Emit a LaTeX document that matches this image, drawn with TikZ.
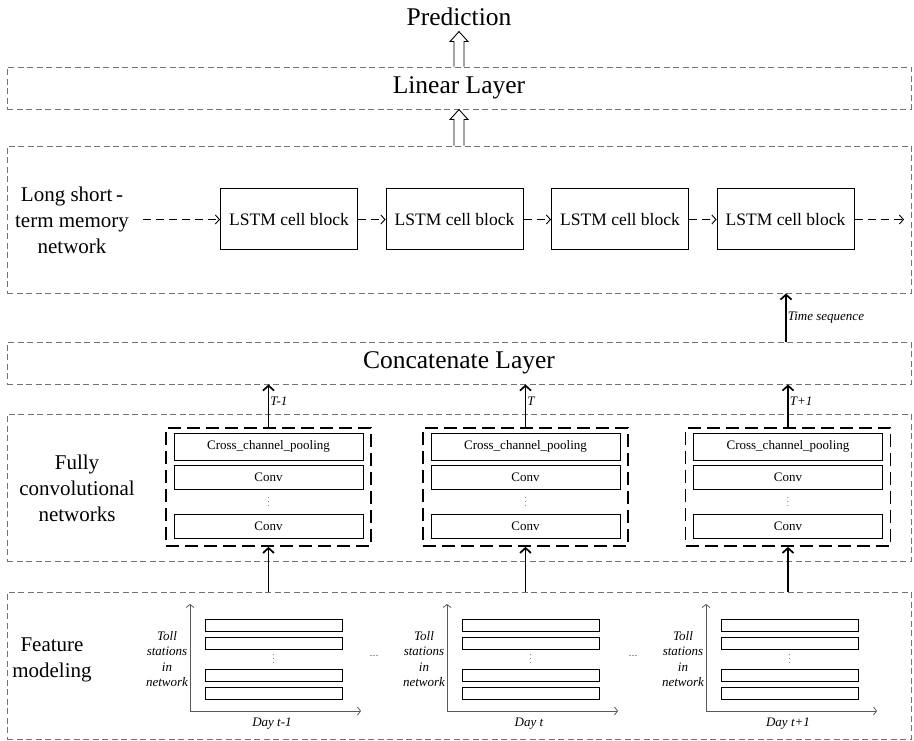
\documentclass[tikz,border=0pt]{standalone}
\usepackage{fontspec}
\setmainfont{Liberation Serif}
\usetikzlibrary{positioning}
\usetikzlibrary{arrows.meta}
\usetikzlibrary{calc}

\begin{document}
\begin{tikzpicture}
    [
    x=1pt,y=-1pt,
    layer/.style={draw=black!55,dash pattern=on 6pt off 3.5pt,line width=0.9pt,rectangle,inner sep=0pt,minimum width=904pt},
    big/.style={font=\fontsize{25.5}{28}\selectfont},
    side/.style={align=center,font=\fontsize{21}{26}\selectfont},
    cell/.style={draw,line width=1pt,rectangle,inner sep=0pt,minimum width=137pt,minimum height=61pt,font=\fontsize{17.5}{20}\selectfont},
    fcn/.style={draw,line width=1.7pt,dash pattern=on 13pt off 6pt,rectangle,inner sep=0pt,minimum width=205pt,minimum height=118pt},
    unit/.style={draw,line width=0.8pt,rectangle,inner sep=0pt,minimum width=189pt,font=\fontsize{13}{15}\selectfont},
    stn/.style={draw,line width=0.8pt,rectangle,inner sep=0pt,minimum width=137pt,minimum height=12pt},
    small/.style={inner sep=1pt,font=\fontsize{13}{15.3}\selectfont\itshape},
    up/.style={-{Straight Barb[length=5pt,width=11pt]},line width=1.7pt},
    link/.style={-{Straight Barb[length=4pt,width=9pt]},line width=0.9pt,dash pattern=on 8pt off 5pt},
    axis/.style={-{Straight Barb[length=3pt,width=8pt]},draw=black!65,line width=0.8pt},
    hollow/.style={draw,line width=0.9pt,fill=white}
    ]
    \useasboundingbox (0,0) rectangle (914,741);

    \node[big] (pred) at (459,17) {Prediction};
    \node[layer,big,minimum height=42pt] (linear) at (459,88) {Linear Layer};
    \node[layer,minimum height=147pt] (lstm) at (459,219.5) {};
    \node[layer,big,minimum height=42pt] (concat) at (459,363) {Concatenate Layer};
    \node[layer,minimum height=147pt] (fullconv) at (459,487.5) {};
    \node[layer,minimum height=147pt] (feature) at (459,665.5) {};

    \draw[hollow] ($(linear.north)+(-5,0)$) -- ++(0,-25) -- ++(-4,0) -- ++(9,-10) -- ++(9,10) -- ++(-4,0) -- ++(0,25);
    \draw[hollow] ($(lstm.north)+(-5,0)$) -- ++(0,-26) -- ++(-4,0) -- ++(9,-10) -- ++(9,10) -- ++(-4,0) -- ++(0,26);

    \node[side] (lstmlab) at (72,220) {Long short\,-\\term memory\\network};
    \node[cell] (c1) at (289,219.5) {LSTM cell block};
    \node[cell,right=27.5pt of c1] (c2) {LSTM cell block};
    \node[cell,right=27.5pt of c2] (c3) {LSTM cell block};
    \node[cell,right=27.5pt of c3] (c4) {LSTM cell block};
    \coordinate (in) at (143,219.5);
    \coordinate (out) at (904,219.5);
    \draw[link] (in) -- (c1);
    \draw[link] (c1) -- (c2);
    \draw[link] (c2) -- (c3);
    \draw[link] (c3) -- (c4);
    \draw[link] (c4) -- (out);

    \coordinate (ts) at (786,0);
    \draw[up] (concat.north -| ts) -- (lstm.south -| ts) node[midway,right,small] {Time sequence};

    \node[side] (fcnlab) at (77,488) {Fully\\convolutional\\networks};
    \node[side] (featlab) at (52,660) {Feature\\modeling};

    \foreach \x/\i/\lab in {268.5/1/T-1,525.5/2/T,788/3/T+1} {
        \node[fcn] (f\i) at (\x,487) {};
        \node[unit,minimum height=27pt] (pool\i) at (\x,446.5) {Cross\_channel\_pooling};
        \node[unit,minimum height=24pt] (conva\i) at (\x,477) {Conv};
        \node[font=\fontsize{7}{7}\selectfont] (vd\i) at (\x,499) {\vdots};
        \node[unit,minimum height=24pt] (convb\i) at (\x,526) {Conv};
        \draw[up] (f\i.north) -- (concat.south -| f\i.north) node[pos=0.6,right,small] {\lab};
        \draw[up] (feature.north -| f\i.south) -- (f\i.south);
    }

    \foreach \x/\i/\day in {190/1/Day t-1,447/2/Day t,706/3/Day t+1} {
        \coordinate (o\i) at (\x,711);
        \coordinate (top\i) at (\x,604);
        \coordinate (end\i) at ({\x+171},711);
        \draw[axis] (o\i) -- (top\i);
        \draw[axis] (o\i) -- (end\i);
        \node[stn] (ra\i) at ({\x+83.5},625) {};
        \node[stn] (rb\i) at ({\x+83.5},643) {};
        \node[font=\fontsize{7}{7}\selectfont] (rv\i) at ({\x+83.5},656) {\vdots};
        \node[stn] (rc\i) at ({\x+83.5},675) {};
        \node[stn] (rd\i) at ({\x+83.5},693) {};
        \node[small,align=center] (toll\i) at ({\x-23},659) {Toll\\stations\\in\\network};
        \node[small] (day\i) at ({\x+82},724) {\day};
    }
    \node[font=\fontsize{9}{9}\selectfont] (gap1) at (374,656) {\dots};
    \node[font=\fontsize{9}{9}\selectfont] (gap2) at (633,656) {\dots};
\end{tikzpicture}
\end{document}
